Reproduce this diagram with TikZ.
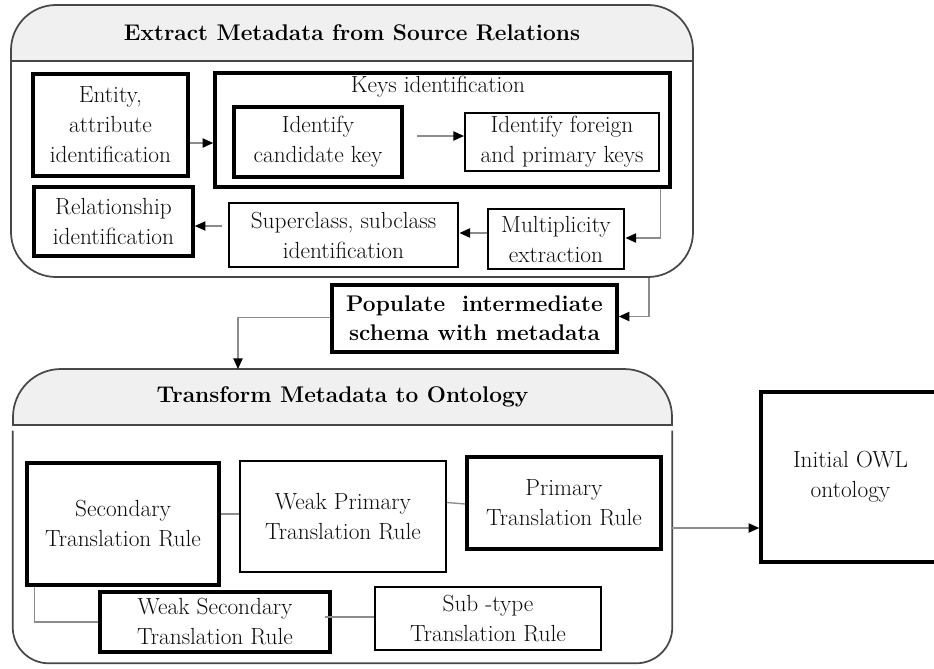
\documentclass[tikz,border=0pt]{standalone}
\usepackage{fontspec}
\usetikzlibrary{arrows.meta,calc}
\def\px{0.75pt}
\begin{document}
\begin{tikzpicture}[x=0.75pt,y=-0.75pt,
  body/.style={font=\fontsize{17.5}{22.5}\selectfont, align=center, inner sep=0pt, text=black!95},
  sized/.style 2 args={minimum width=#1*\px, minimum height=#2*\px},
  heavybox/.style={body, draw=black, line width=2.7pt},
  midbox/.style={body, draw=black, line width=2.2pt},
  lightbox/.style={body, draw=black, line width=1.6pt},
  frame/.style={draw=black!72, line width=1.3pt},
  headfill/.style={fill=black!6},
  title/.style={font=\fontsize{17}{22}\selectfont\bfseries, align=center, inner sep=0pt, text=black},
  link/.style={draw=black!45, line width=1pt},
  arr/.style={link, -{Triangle[length=8pt,width=7pt,color=black]}},
]
\useasboundingbox (0,0) rectangle (934,668);

% ---------- Stage 1: extract metadata ----------
\begin{scope}
  \clip (0,0) rectangle (700,61);
  \fill[headfill, rounded corners=33.75pt] (11,5) rectangle (693,277);
\end{scope}
\node[frame, rounded corners=33.75pt, inner sep=0pt, sized={682}{272}] (topbox) at (352,141) {};
\draw[frame] (11,61) -- (693,61);
\node[title] (tophead) at (352,33) {Extract Metadata from Source Relations};

\node[heavybox, sized={155}{102}] (entity) at (110.5,125) {Entity,\\ attribute\\ identification};
\node[heavybox, sized={455}{114}] (keys) at (442.5,130) {};
\node[body] (keystitle) at (438,87) {Keys identification};
\node[heavybox, sized={168}{70}] (cand) at (318,142) {Identify\\ candidate key};
\node[lightbox, sized={194}{58}] (foreign) at (562,142) {Identify foreign\\ and primary keys};
\node[heavybox, sized={159}{69}] (rel) at (113.5,221.5) {Relationship\\ identification};
\node[midbox, sized={229}{64}] (super) at (343.5,235) {Superclass, subclass\\ identification};
\node[midbox, sized={136}{60}] (mult) at (556,239) {Multiplicity\\ extraction};

% ---------- intermediate step ----------
\node[title, draw=black, line width=2.7pt, sized={285}{67}] (pop) at (474.5,318.5) {Populate\ \ intermediate\\ schema with metadata};

% ---------- Stage 2: transform to ontology ----------
\begin{scope}
  \clip (0,330) rectangle (700,425);
  \filldraw[frame, headfill, rounded corners=36pt] (13,369) rectangle (672,520);
\end{scope}
\draw[frame] (13,425) -- (672,425);
\node[title] (bothead) at (342.5,397) {Transform Metadata to Ontology};
\node[inner sep=0pt, sized={659}{232}] (botbody) at (342.5,547) {};
\draw[frame, rounded corners=27pt] (botbody.north west) -- (botbody.south west) -- (botbody.south east) -- (botbody.north east);

\node[heavybox, sized={192}{122}] (sec) at (123,524) {Secondary\\ Translation Rule};
\node[lightbox, sized={206}{111}] (wprim) at (343,516.5) {Weak Primary\\ Translation Rule};
\node[heavybox, sized={194}{92}] (prim) at (564,503) {Primary\\ Translation Rule};
\node[heavybox, sized={230}{60}] (wsec) at (215,622) {Weak Secondary\\ Translation Rule};
\node[midbox, sized={226}{63}] (sub) at (488,618.5) {Sub -type\\ Translation Rule};

\node[heavybox, sized={179}{170}] (owl) at (850.5,477) {Initial OWL\\ ontology};

% ---------- connectors ----------
\coordinate (c1) at ($(entity.east)+(0,18)$);
\draw[arr] (c1) -- (c1 -| keys.west);
\coordinate (c2) at ($(cand.east)+(13,-6)$);
\draw[arr] (c2) -- (c2 -| foreign.west);
\coordinate (c3) at ($(keys.south east)+(-11,0)$);
\draw[arr] (c3) |- ($(mult.east)+(0,-1)$);
\coordinate (c4) at ($(mult.west)+(0,-6)$);
\draw[arr] (c4) -- (c4 -| super.east);
\coordinate (c5) at ($(super.west)+(-6,-9)$);
\draw[arr] (c5) -- (c5 -| rel.east);
\coordinate (c6) at ($(topbox.south east)+(-45,0)$);
\draw[arr] (c6) |- ($(pop.east)+(0,-2)$);
\coordinate (c7) at (238,369);
\draw[arr] ($(pop.west)+(0,-1)$) -| (c7);
\coordinate (c8) at ($(botbody.east)+(0,-19)$);
\draw[arr] (c8) -- (c8 -| owl.west);

\coordinate (c9) at ($(sec.east)+(0,-10)$);
\draw[link] (c9) -- (c9 -| wprim.west);
\draw[link] ($(wprim.east)+(0,-14)$) -- ($(prim.west)+(0,1)$);
\coordinate (c10) at ($(sec.south west)+(9,0)$);
\draw[link] (c10) |- (wsec.west);
\coordinate (c11) at ($(wsec.east)+(-7,-5)$);
\draw[link] (c11) -- (c11 -| sub.west);
\end{tikzpicture}
\end{document}
